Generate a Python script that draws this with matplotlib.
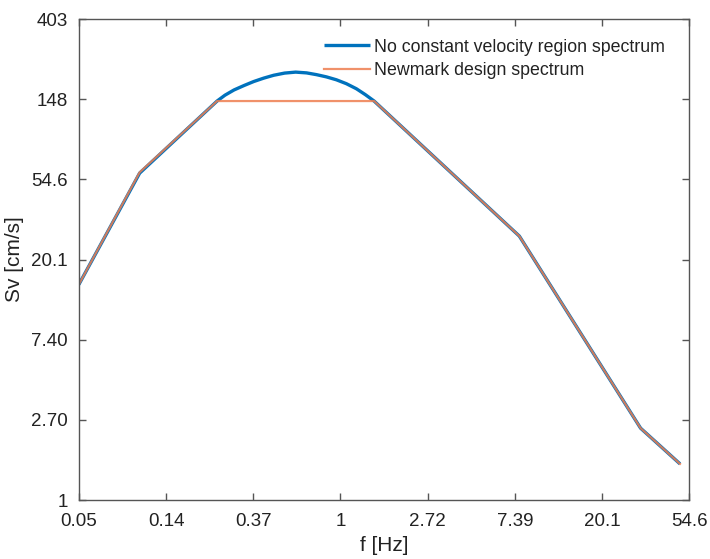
import numpy as np
import matplotlib
matplotlib.use("Agg")
import matplotlib.pyplot as plt
from matplotlib.ticker import FixedLocator, FixedFormatter, NullLocator

# Data
newmark_f = [0.0498, 0.100, 0.243, 1.47, 7.77, 31.2, 49.0]
newmark_sv = [14.7, 59.6, 145.0, 145.0, 26.9, 2.45, 1.57]

blue_f = [0.0498, 0.100, 0.243, 0.266, 0.295, 0.331, 0.370, 0.415, 0.465,
          0.527, 0.598, 0.678, 0.760, 0.851, 0.954, 1.07, 1.20, 1.33, 1.47,
          7.77, 31.2, 49.0]
blue_sv = [14.7, 59.0, 145.0, 156.0, 166.5, 176.0, 185.0, 193.0, 200.0,
           205.5, 208.0, 206.0, 201.5, 196.0, 189.0, 180.0, 169.0, 157.0, 145.0,
           26.9, 2.45, 1.57]

xtick_vals = [np.exp(k) for k in range(-3, 5)]
xtick_labels = ["0.05", "0.14", "0.37", "1", "2.72", "7.39", "20.1", "54.6"]
ytick_vals = [np.exp(k) for k in range(0, 7)]
ytick_labels = ["1", "2.70", "7.40", "20.1", "54.6", "148", "403"]

plt.rcParams['font.family'] = ['Liberation Sans', 'DejaVu Sans']

fig = plt.figure(figsize=(7.10, 5.59), dpi=100)
ax = fig.add_axes([0.111, 0.1055, 0.860, 0.8605])

ax.plot(blue_f, blue_sv, color='#0072BD', lw=2.4, label='No constant velocity region spectrum', solid_capstyle='butt')
ax.plot(newmark_f, newmark_sv, color='#EE7E50', lw=1.6, alpha=0.85, label='Newmark design spectrum')

ax.set_xscale('log')
ax.set_yscale('log')
ax.set_xlim(np.exp(-3), np.exp(4))
ax.set_ylim(np.exp(0), np.exp(6))

ax.xaxis.set_major_locator(FixedLocator(xtick_vals))
ax.xaxis.set_major_formatter(FixedFormatter(xtick_labels))
ax.yaxis.set_major_locator(FixedLocator(ytick_vals))
ax.yaxis.set_major_formatter(FixedFormatter(ytick_labels))
ax.xaxis.set_minor_locator(NullLocator())
ax.yaxis.set_minor_locator(NullLocator())

for s in ax.spines.values():
    s.set_color('#555555')
    s.set_linewidth(1.0)
ax.tick_params(axis='both', which='major', direction='in', length=5, width=1.0,
               color='#555555', labelsize=13.5, labelcolor='#222222',
               top=True, right=True)
ax.tick_params(axis='x', pad=9)
ax.tick_params(axis='y', pad=8)

ax.set_xlabel('f [Hz]', fontsize=15, color='#222222', labelpad=5)
ax.set_ylabel('Sv [cm/s]', fontsize=15, color='#222222', labelpad=5)

leg = ax.legend(loc='upper right', bbox_to_anchor=(0.98, 0.985), frameon=False,
                fontsize=12.8, handlelength=2.6, handletextpad=0.2, labelspacing=0.35,
                borderaxespad=0.3)
for t in leg.get_texts():
    t.set_color('#222222')

fig.savefig('out.png', dpi=100)
